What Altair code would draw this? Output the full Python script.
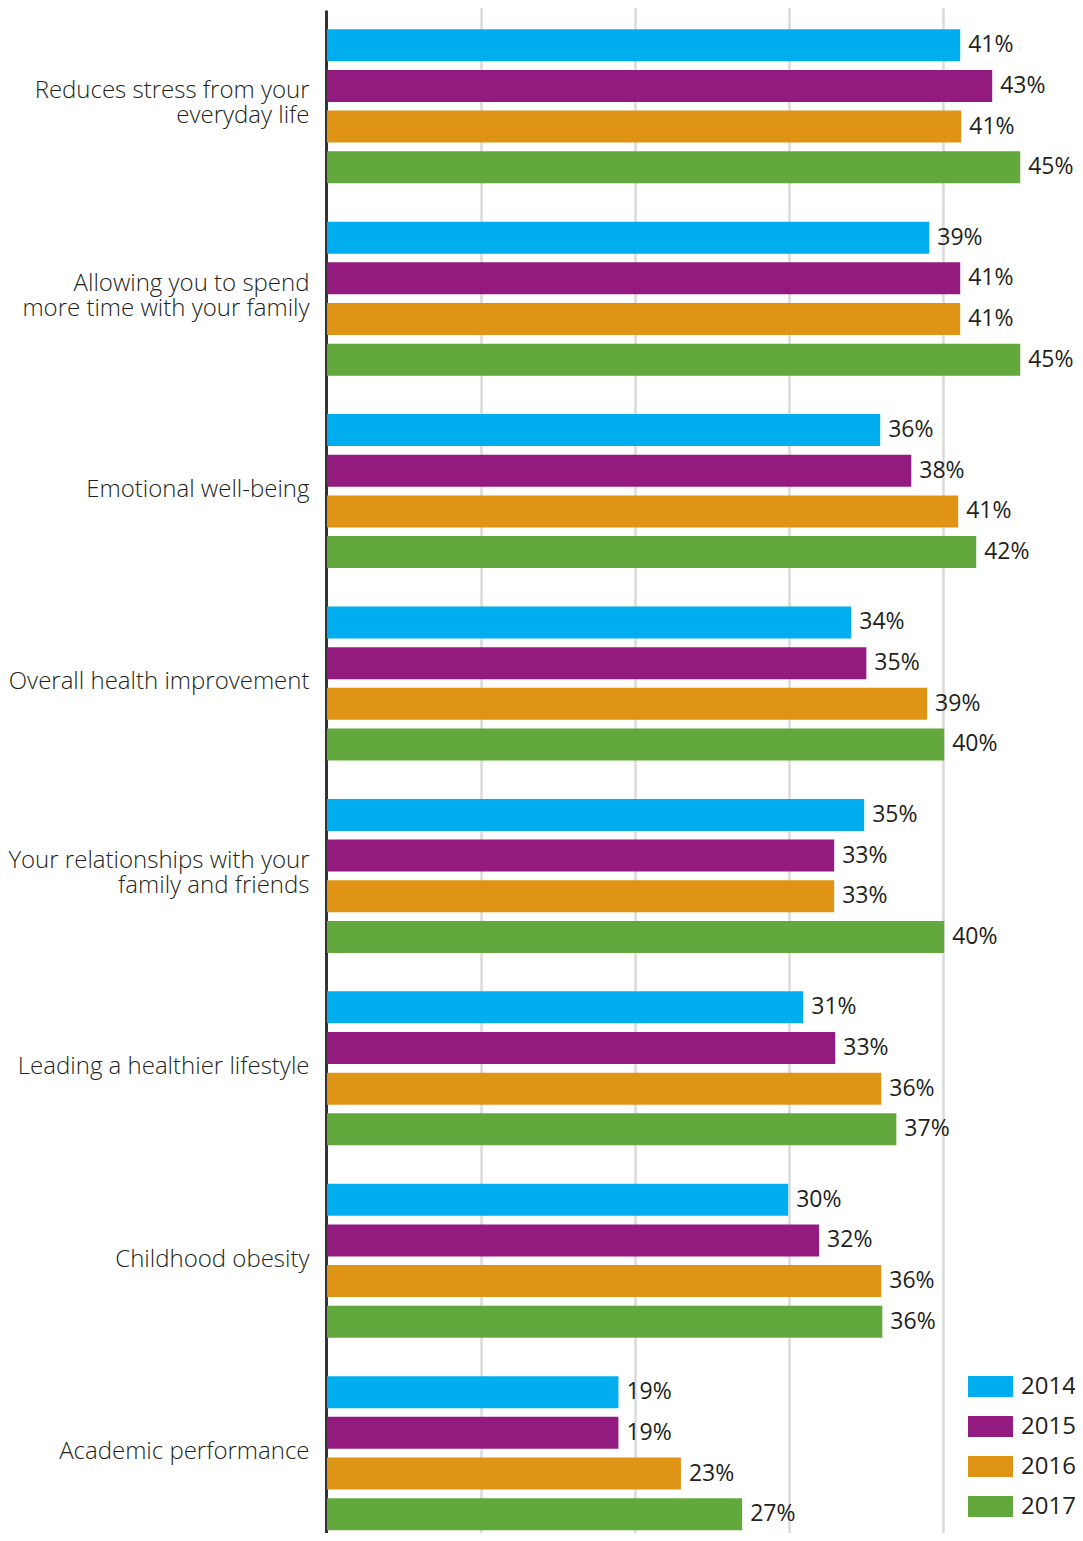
import altair as alt
import pandas as pd

categories = [
    "Reduces stress from your|everyday life",
    "Allowing you to spend|more time with your family",
    "Emotional well-being",
    "Overall health improvement",
    "Your relationships with your|family and friends",
    "Leading a healthier lifestyle",
    "Childhood obesity",
    "Academic performance",
]
years = ["2014", "2015", "2016", "2017"]
colors = ["#00AEEF", "#931B7F", "#DF9416", "#62A83D"]

v2014 = [41.15, 39.14, 35.95, 34.07, 34.91, 30.95, 29.97, 18.94]
v2015 = [43.23, 41.15, 37.97, 35.05, 32.96, 33.03, 31.98, 18.94]
v2016 = [41.22, 41.15, 41.02, 39.00, 32.96, 36.02, 36.02, 23.00]
v2017 = [45.05, 45.05, 42.19, 40.11, 40.11, 37.00, 36.09, 26.98]

series = {"2014": v2014, "2015": v2015, "2016": v2016, "2017": v2017}
rows = []
for yr in years:
    for c, v in zip(categories, series[yr]):
        rows.append({"category": c, "year": yr, "value": v})
df = pd.DataFrame(rows)

TEXT = "#231f20"
sym_path = "M-1,-0.4667H1V0.4667H-1Z"

y_enc = alt.Y(
    "category:N",
    sort=categories,
    scale=alt.Scale(range=[0, 1539.4], paddingInner=0, paddingOuter=0),
    axis=alt.Axis(
        title=None,
        ticks=False,
        domainColor="#333333",
        domainWidth=3,
        offset=1,
        labelFont="Open Sans",
        labelFontSize=24,
        labelFontWeight=300,
        labelColor=TEXT,
        labelLineHeight=25,
        labelPadding=17,
        labelLimit=0,
        labelOffset={
            "condition": {"test": "indexof(datum.value, '|') >= 0", "value": -15},
            "value": -1,
        },
        labelExpr="split(datum.label, '|')",
    ),
)
yoff_enc = alt.YOffset(
    "year:N",
    sort=years,
    scale=alt.Scale(range=[0, 192.43], paddingInner=0.213, paddingOuter=0.4723),
)
x_enc = alt.X(
    "value:Q",
    scale=alt.Scale(domain=[0, 48.09], nice=False, zero=True),
    axis=alt.Axis(
        title=None,
        values=[10, 20, 30, 40],
        labels=False,
        ticks=False,
        domain=False,
        grid=True,
        gridColor="#dadada",
        gridWidth=2.5,
    ),
)

base = alt.Chart(df)

bars = base.mark_bar(opacity=1).encode(
    x=x_enc,
    y=y_enc,
    yOffset=yoff_enc,
    color=alt.Color(
        "year:N",
        scale=alt.Scale(domain=years, range=colors),
        legend=alt.Legend(
            orient="none",
            legendX=641,
            legendY=1354,
            title=None,
            symbolType=sym_path,
            symbolSize=2025,
            symbolStrokeWidth=0,
            symbolOpacity=1,
            labelFont="Open Sans",
            labelFontSize=24,
            labelColor=TEXT,
            labelOffset=8,
            rowPadding=5,
            padding=0,
        ),
    ),
)

labels = base.transform_calculate(
    label="format(datum.value, '.0f') + '%'"
).mark_text(
    align="left", baseline="middle", dx=8, font="Open Sans", fontSize=23, color=TEXT
).encode(
    x=alt.X("value:Q"),
    y=alt.Y("category:N", sort=categories),
    yOffset=alt.YOffset("year:N", sort=years),
    text="label:N",
)

chart = alt.layer(bars, labels).properties(
    width=740,
    height=1523,
    autosize=alt.AutoSizeParams(type="none"),
    padding={"left": 319, "top": 2, "right": 8, "bottom": 0},
).configure_view(stroke=None)

chart.save("out.html", embed_options={"renderer": "svg", "actions": False})
